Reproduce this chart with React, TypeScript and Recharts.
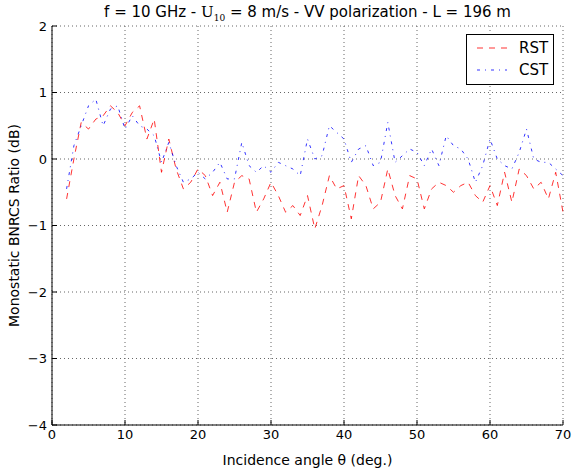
import { LineChart, Line, XAxis, YAxis, CartesianGrid } from "recharts"

const angles = [
  2, 3, 4, 5, 6, 7, 8, 9, 10, 11, 12, 13, 14, 15, 16, 17, 18, 19, 20, 21, 22, 23, 24, 25, 26, 27, 28, 29, 30, 31, 32, 33, 34, 35, 36,
  37, 38, 39, 40, 41, 42, 43, 44, 45, 46, 47, 48, 49, 50, 51, 52, 53, 54, 55, 56, 57, 58, 59, 60, 61, 62, 63, 64, 65, 66, 67, 68, 69, 70,
]

const rst = [
  -0.6, 0.0, 0.55, 0.45, 0.6, 0.65, 0.8, 0.7, 0.5, 0.7, 0.8, 0.3, 0.6, -0.2, 0.3, -0.15, -0.45, -0.35, -0.15, -0.25, -0.55, -0.35, -0.8,
  -0.35, -0.25, -0.3, -0.8, -0.6, -0.35, -0.55, -0.8, -0.7, -0.85, -0.55, -1.05, -0.7, -0.25, -0.45, -0.4, -0.9, -0.25, -0.4, -0.75,
  -0.65, -0.15, -0.55, -0.75, -0.25, -0.3, -0.75, -0.45, -0.35, -0.4, -0.5, -0.4, -0.35, -0.55, -0.65, -0.4, -0.7, -0.2, -0.65, -0.15,
  -0.25, -0.45, -0.35, -0.6, -0.2, -0.8,
]

const cst = [
  -0.45, 0.2, 0.5, 0.8, 0.9, 0.5, 0.75, 0.8, 0.45, 0.65, 0.5, 0.45, 0.35, -0.05, 0.25, -0.1, -0.35, -0.3, -0.2, -0.3, -0.2, -0.05, -0.3,
  -0.3, 0.25, -0.1, -0.2, -0.1, -0.2, -0.05, -0.1, -0.15, -0.25, 0.3, 0.0, 0.05, 0.5, 0.4, 0.3, -0.05, 0.15, 0.2, -0.1, -0.05, 0.55,
  -0.05, 0.05, 0.15, 0.1, -0.1, 0.15, -0.1, 0.35, 0.2, 0.15, 0.0, -0.35, -0.1, 0.3, 0.0, -0.1, -0.15, 0.1, 0.45, 0.0, -0.05, -0.05,
  -0.15, -0.25,
]

const xTicks = [0, 10, 20, 30, 40, 50, 60, 70]
const yTicks = [-4, -3, -2, -1, 0, 1, 2]

const data = angles.map((a, i) => ({ angle: a, rst: rst[i], cst: cst[i] }))

const font = "'DejaVu Sans', sans-serif"

function LegendBox() {
  return (
    <div
      style={{
        position: "absolute",
        left: 466,
        top: 34,
        width: 88,
        height: 51,
        boxSizing: "border-box",
        border: "1px solid #000",
        background: "#fff",
        padding: "2px 0 0 10px",
        fontFamily: font,
        fontSize: 15,
      }}
    >
      <div style={{ display: "flex", alignItems: "center", height: 22 }}>
        <svg width={30} height={10}>
          <line x1={0} y1={5} x2={30} y2={5} stroke="#ff0000" strokeDasharray="6 6" strokeOpacity={0.8} />
        </svg>
        <span style={{ marginLeft: 12 }}>RST</span>
      </div>
      <div style={{ display: "flex", alignItems: "center", height: 22 }}>
        <svg width={30} height={10}>
          <line x1={0} y1={5} x2={30} y2={5} stroke="#0000ff" strokeDasharray="3 5 1 5" strokeOpacity={0.8} />
        </svg>
        <span style={{ marginLeft: 12 }}>CST</span>
      </div>
    </div>
  )
}

export default function App() {
  return (
    <div style={{ position: "absolute", left: 0, top: 0, width: 572, height: 470, background: "#fff" }}>
      <LineChart width={572} height={470} data={data} margin={{ top: 26, right: 9, bottom: 15, left: 0 }}>
        <CartesianGrid stroke="#666" strokeDasharray="1 3" />
        <XAxis
          dataKey="angle"
          type="number"
          domain={[0, 70]}
          ticks={xTicks}
          height={30}
          tickSize={-5}
          tickMargin={10}
          stroke="#000"
          tick={{ fill: "#000", fontSize: 13, fontFamily: font }}
          label={{ value: "Incidence angle θ (deg.)", position: "insideBottom", offset: -10, fill: "#000", fontSize: 14, fontFamily: font }}
        />
        <XAxis xAxisId="top" orientation="top" type="number" domain={[0, 70]} ticks={xTicks} tick={false} height={0} tickSize={-5} stroke="#000" />
        <YAxis
          type="number"
          domain={[-4, 2]}
          ticks={yTicks}
          width={52}
          tickSize={-5}
          tickMargin={10}
          stroke="#000"
          tick={{ fill: "#000", fontSize: 13, fontFamily: font }}
          tickFormatter={(v: number) => (v < 0 ? `\u2212${Math.abs(v)}` : `${v}`)}
          label={{
            value: "Monostatic BNRCS Ratio (dB)",
            angle: -90,
            position: "insideLeft",
            offset: 14,
            style: { textAnchor: "middle" },
            fill: "#000",
            fontSize: 14,
            fontFamily: font,
          }}
        />
        <YAxis yAxisId="right" orientation="right" type="number" domain={[-4, 2]} ticks={yTicks} tick={false} tickSize={-5} width={0} stroke="#000" />
        <Line
          dataKey="rst"
          name="RST"
          stroke="#ff0000"
          strokeOpacity={0.8}
          strokeWidth={1}
          strokeDasharray="6 6"
          dot={false}
          isAnimationActive={false}
        />
        <Line
          dataKey="cst"
          name="CST"
          stroke="#0000ff"
          strokeOpacity={0.8}
          strokeWidth={1}
          strokeDasharray="3 5 1 5"
          dot={false}
          isAnimationActive={false}
        />
      </LineChart>
      <div
        style={{
          position: "absolute",
          left: 52,
          width: 511,
          top: 3,
          textAlign: "center",
          fontFamily: font,
          fontSize: 15,
        }}
      >
        f = 10 GHz - <span style={{ fontFamily: "'DejaVu Serif', serif" }}>U</span>
        <sub style={{ fontFamily: "'DejaVu Serif', serif", fontSize: 9 }}>10</sub> = 8 m/s - VV polarization - L = 196 m
      </div>
      <LegendBox />
    </div>
  )
}
